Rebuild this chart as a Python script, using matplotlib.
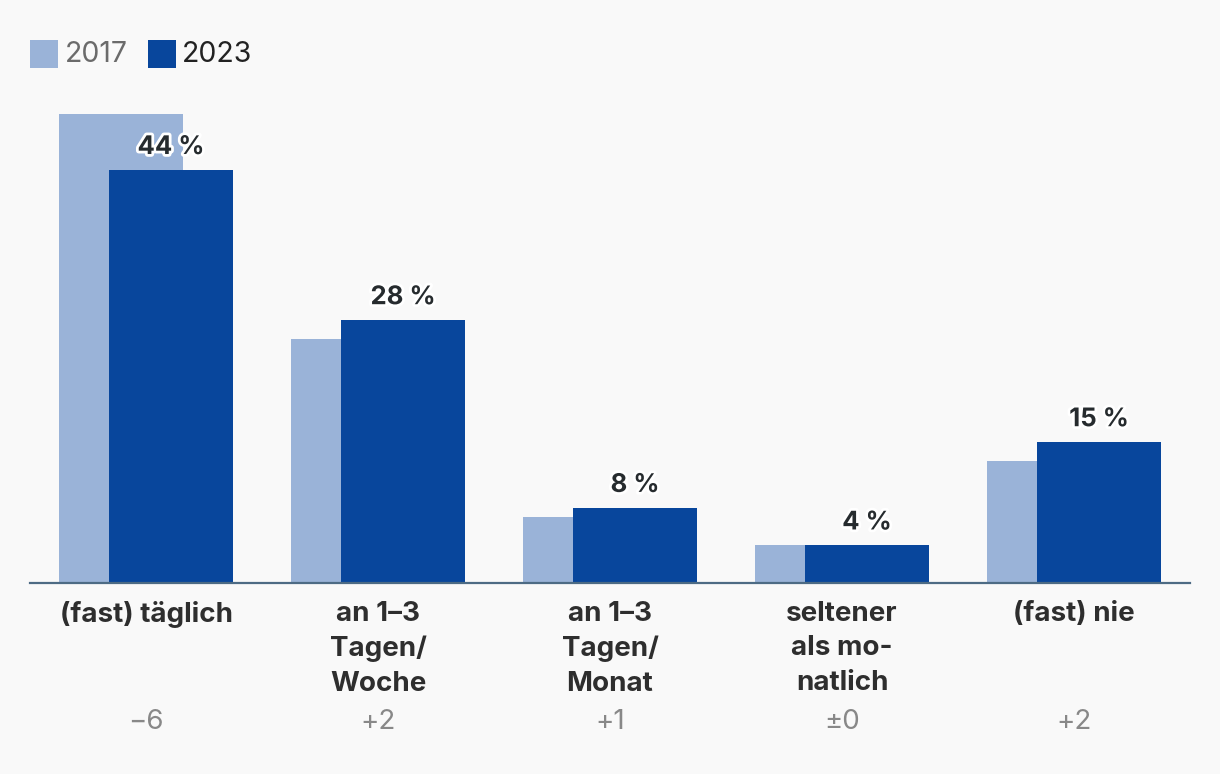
import matplotlib
matplotlib.use("Agg")
import matplotlib.pyplot as plt
from matplotlib.patches import Rectangle
import matplotlib.patheffects as pe
import numpy as np

categories = ["(fast) täglich", "an 1–3\nTagen/\nWoche", "an 1–3\nTagen/\nMonat",
              "seltener\nals mo-\nnatlich", "(fast) nie"]
values_2017 = [50, 26, 7, 4, 13]
values_2023 = [44, 28, 8, 4, 15]
deltas = ["−6", "+2", "+1", "±0", "+2"]
series_names = ["2017", "2023"]

C17 = "#9ab3d8"
C23 = "#08469c"
BG = "#f9f9f9"
DARK = "#262b2e"

plt.rcParams['font.family'] = ['Inter', 'DejaVu Sans']

W, H = 1220, 774
fig = plt.figure(figsize=(W / 100, H / 100), dpi=100, facecolor=BG)
ax_left, ax_right = 30, 1190
ax_bottom, ax_top = 583, 100
ax = fig.add_axes([ax_left / W, 1 - ax_bottom / H, (ax_right - ax_left) / W, (ax_bottom - ax_top) / H])
ax.set_facecolor(BG)

x = np.arange(len(categories))
bw = 124 / 232
off = 25 / 232
ax.bar(x - off, values_2017, width=bw, color=C17, zorder=2)
ax.bar(x + off, values_2023, width=bw, color=C23, zorder=3)

ax.set_xlim(-0.5, len(categories) - 0.5)
ax.set_ylim(0, (ax_bottom - ax_top) / 9.386)
for s in ["top", "right", "left"]:
    ax.spines[s].set_visible(False)
ax.spines["bottom"].set_color("#4d6b84")
ax.spines["bottom"].set_linewidth(1.6)
ax.spines["bottom"].set_zorder(5)
ax.set_xticks([])
ax.set_yticks([])

for i, v in enumerate(values_2023):
    t = ax.annotate(f"{v} %", xy=(x[i] + off, v), xytext=(0, 11), textcoords="offset pixels",
                    ha="center", va="bottom", fontsize=18.5, fontweight="bold", color=DARK, zorder=6)
    t.set_path_effects([pe.withStroke(linewidth=4, foreground="white")])

for i, c in enumerate(categories):
    ax.annotate(c, xy=(x[i], 0), xycoords=("data", "axes fraction"), xytext=(0, -18),
                textcoords="offset pixels", ha="center", va="top", fontsize=20,
                fontweight="bold", color="#2e2e2e", linespacing=1.42, annotation_clip=False)
    ax.annotate(deltas[i], xy=(x[i], 0), xycoords=("data", "axes fraction"), xytext=(0, -139),
                textcoords="offset pixels", ha="center", va="center", fontsize=20,
                color="#888888", annotation_clip=False)

# legend
def px(xp, yp):
    return xp / W, 1 - yp / H

for (sx, tx, col, tcol, name) in [(30, 65, C17, "#6b6b6b", series_names[0]),
                                   (148, 182, C23, "#222222", series_names[1])]:
    fig.add_artist(Rectangle(px(sx, 68), 28 / W, 28 / H, transform=fig.transFigure,
                             facecolor=col, edgecolor="none"))
    fig.text(*px(tx, 55), name, ha="left", va="center", fontsize=20.5, color=tcol)

fig.savefig("out.png", dpi=100, facecolor=BG)
